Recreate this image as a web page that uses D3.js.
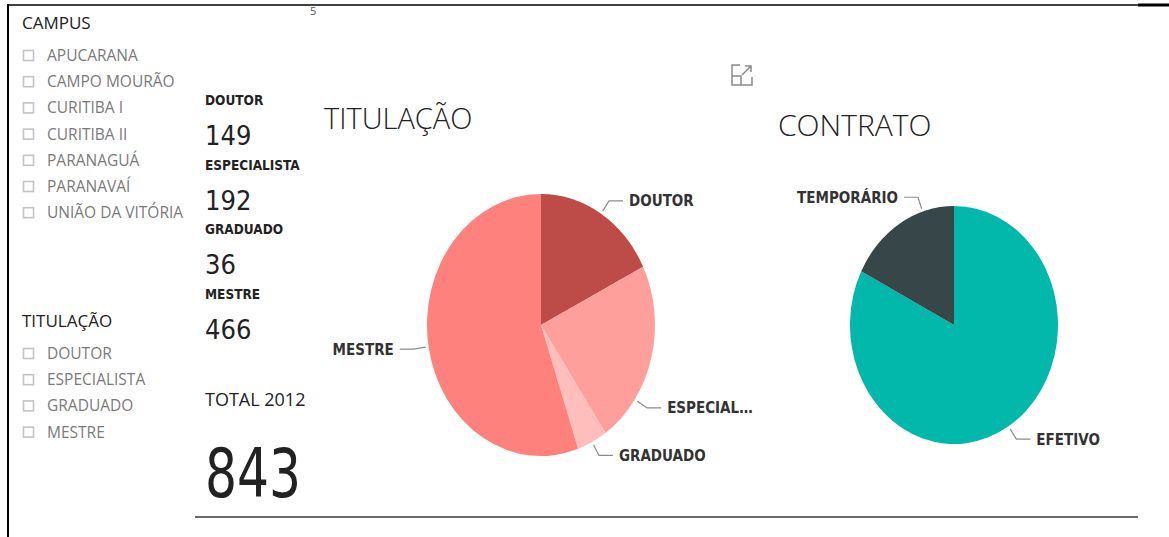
<!DOCTYPE html>
<html>
<head>
<meta charset="utf-8">
<script src="https://cdn.jsdelivr.net/npm/d3@7"></script>
<style>
  body { margin: 0; background: #fff; }
  text { font-family: "Open Sans", "Noto Sans", sans-serif; }
  .cond { font-family: "DejaVu Sans Condensed", "DejaVu Sans", sans-serif; }
  .narrow { font-family: "Liberation Sans Narrow", "DejaVu Sans Condensed", sans-serif; }
</style>
</head>
<body>
<div id="chart"></div>
<script>
// slicer lists
const campusItems = ['APUCARANA', 'CAMPO MOURÃO', 'CURITIBA I', 'CURITIBA II', 'PARANAGUÁ', 'PARANAVAÍ', 'UNIÃO DA VITÓRIA'];
const titulacaoItems = ['DOUTOR', 'ESPECIALISTA', 'GRADUADO', 'MESTRE'];

// titulação pie
const titCategories = ['DOUTOR', 'ESPECIALISTA', 'GRADUADO', 'MESTRE'];
const titValues = [149, 192, 36, 466];
const titLabels = ['DOUTOR', 'ESPECIAL…', 'GRADUADO', 'MESTRE'];
const titColors = ['#BD4B48', '#FE9F9C', '#FFBEBC', '#FE817E'];
const titNudge = [0, 20, 0, 0]; // degrees, label anchor shift

// contrato pie
const conCategories = ['EFETIVO', 'TEMPORÁRIO'];
const conValues = [695, 148];
const conColors = ['#01B8AA', '#374649'];
const conNudge = [0, 14];

const totalLabel = 'TOTAL 2012';

const width = 1169;
const height = 537;

const svg = d3.select('#chart')
    .append('svg')
    .attr('width', width)
    .attr('height', height);

// frame
svg.append('line')
    .attr('x1', 8).attr('x2', 8)
    .attr('y1', 4).attr('y2', height)
    .attr('stroke', '#000').attr('stroke-width', 2);
svg.append('line')
    .attr('x1', 7).attr('x2', 1138)
    .attr('y1', 5).attr('y2', 5)
    .attr('stroke', '#000').attr('stroke-width', 1.5);
svg.append('line')
    .attr('x1', 1138).attr('x2', 1169)
    .attr('y1', 5).attr('y2', 5)
    .attr('stroke', '#000').attr('stroke-width', 3);
svg.append('line')
    .attr('x1', 195).attr('x2', 1138)
    .attr('y1', 517).attr('y2', 517)
    .attr('stroke', '#6a6a6a').attr('stroke-width', 2);

svg.append('text')
    .attr('x', 310).attr('y', 15)
    .style('font-size', '11px')
    .attr('fill', '#555')
    .text('5');

// slicers
function slicer(title, items, top) {
    const g = svg.append('g').attr('transform', `translate(22, ${top})`);
    g.append('text')
        .attr('x', 0).attr('y', 0)
        .style('font-size', '17px')
        .attr('fill', '#222')
        .text(title);
    const rows = g.selectAll('.item')
        .data(items)
        .enter()
        .append('g')
        .attr('transform', (d, i) => `translate(0, ${32 + i * 26.2})`);
    rows.append('rect')
        .attr('x', 1.5).attr('y', -10.5)
        .attr('width', 10).attr('height', 10)
        .attr('fill', '#fff')
        .attr('stroke', '#c4c4c4')
        .attr('stroke-width', 1.6);
    rows.append('text')
        .attr('x', 25).attr('y', 0)
        .style('font-size', '15.5px')
        .attr('fill', '#7a7a7a')
        .text(d => d);
}
slicer('CAMPUS', campusItems, 29);
slicer('TITULAÇÃO', titulacaoItems, 327);

// cards
const cards = svg.append('g').attr('transform', 'translate(205, 0)');
titCategories.forEach((c, i) => {
    const y0 = 105 + i * 64.5;
    cards.append('text')
        .attr('class', 'cond')
        .attr('x', 0).attr('y', y0)
        .style('font-size', '13.5px')
        .style('font-weight', 'bold')
        .attr('fill', '#222')
        .text(c);
    cards.append('text')
        .attr('class', 'narrow')
        .attr('x', 0).attr('y', y0 + 40)
        .style('font-size', '27px')
        .attr('fill', '#222')
        .text(titValues[i]);
});
cards.append('text')
    .attr('x', 0).attr('y', 406)
    .style('font-size', '18px')
    .attr('fill', '#222')
    .text(totalLabel);
cards.append('text')
    .attr('class', 'narrow')
    .attr('x', 0).attr('y', 497)
    .style('font-size', '68px')
    .attr('fill', '#222')
    .attr('textLength', 96)
    .attr('lengthAdjust', 'spacingAndGlyphs')
    .text(d3.sum(titValues));

// expand icon
const icon = svg.append('g').attr('transform', 'translate(732, 65)')
    .attr('fill', 'none').attr('stroke', '#8a8a8a').attr('stroke-width', 1.5);
icon.append('path').attr('d', 'M8,0 H0 V20 H20 V12');
icon.append('path').attr('d', 'M0,11 H9 V20');
icon.append('path').attr('d', 'M10,10 L19,1 M13,1 H19 V7');

// titles
svg.append('text')
    .attr('x', 324).attr('y', 129)
    .style('font-size', '29px')
    .style('font-weight', 300)
    .attr('fill', '#222')
    .text('TITULAÇÃO');
svg.append('text')
    .attr('x', 778).attr('y', 136)
    .style('font-size', '30px')
    .style('font-weight', 300)
    .attr('fill', '#222')
    .text('CONTRATO');

function drawPie(cfg) {
    const { cx, cy, rx, ry, values, labels, colors, nudge } = cfg;
    const pie = d3.pie().sort(null).value(d => d);
    const arcs = pie(values);
    const arc = d3.arc().innerRadius(0).outerRadius(rx);
    const g = svg.append('g').attr('transform', `translate(${cx}, ${cy})`);

    g.append('g')
        .attr('transform', `scale(1, ${ry / rx})`)
        .selectAll('path')
        .data(arcs)
        .enter()
        .append('path')
        .attr('d', arc)
        .attr('fill', (d, i) => colors[i]);

    arcs.forEach((d, i) => {
        const a = (d.startAngle + d.endAngle) / 2 + nudge[i] * Math.PI / 180;
        const sx = Math.sin(a), sy = -Math.cos(a);
        const p0 = [(rx + 3) * sx, (ry + 3) * sy];
        const p1 = [(rx + 15) * sx, (ry + 15) * sy];
        const right = sx >= 0;
        const p2 = [p1[0] + (right ? 14 : -14), p1[1]];
        g.append('path')
            .attr('d', d3.line()([p0, p1, p2]))
            .attr('fill', 'none')
            .attr('stroke', '#8c8c8c')
            .attr('stroke-width', 1.2);
        g.append('text')
            .attr('class', 'cond')
            .attr('x', p2[0] + (right ? 6 : -6))
            .attr('y', p2[1])
            .attr('dy', '0.36em')
            .attr('text-anchor', right ? 'start' : 'end')
            .style('font-size', '15px')
            .style('font-weight', 'bold')
            .attr('fill', '#333')
            .text(labels[i]);
    });
}

drawPie({
    cx: 541, cy: 325, rx: 114, ry: 131,
    values: titValues, labels: titLabels, colors: titColors, nudge: titNudge
});
drawPie({
    cx: 954, cy: 325, rx: 104, ry: 119,
    values: conValues, labels: conCategories, colors: conColors, nudge: conNudge
});
</script>
</body>
</html>
